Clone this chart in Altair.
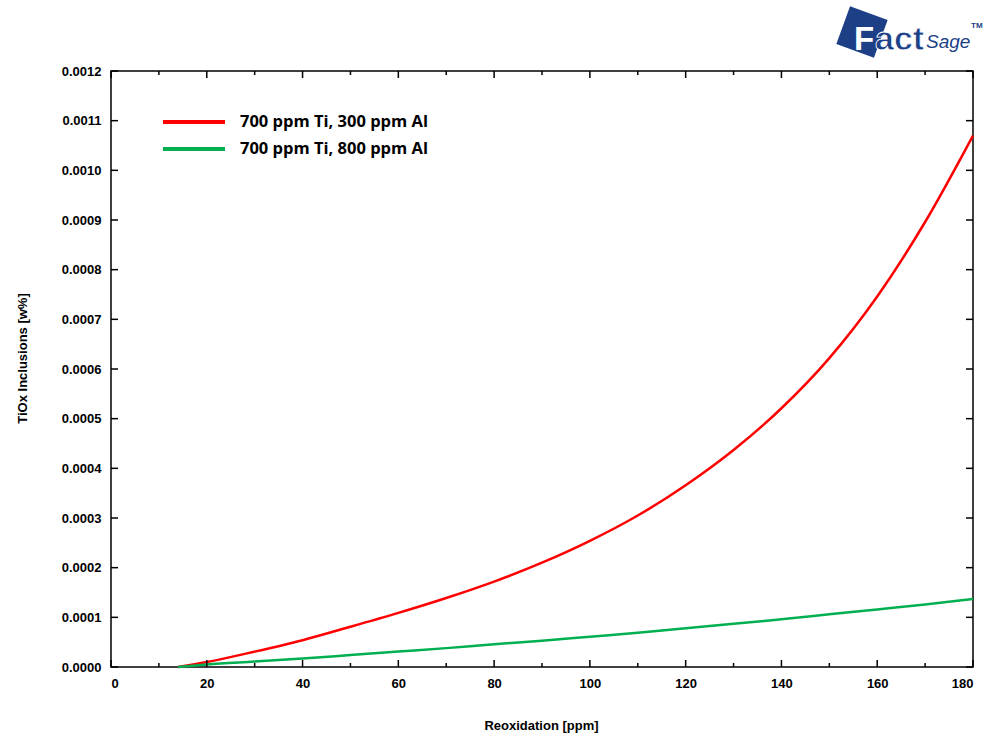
import altair as alt
import pandas as pd

# Data
reox = [14, 20, 30, 40, 50, 60, 70, 80, 90, 100, 110, 120, 130, 140, 150, 160, 170, 180]
red_vals = [0.0, 0.000010, 0.000031, 0.000054, 0.000081, 0.000109, 0.000139, 0.000172,
            0.000210, 0.000254, 0.000305, 0.000366, 0.000437, 0.000521, 0.000622, 0.000746,
            0.000896, 0.001070]
green_vals = [0.0, 0.000005, 0.000011, 0.000017, 0.000024, 0.000031, 0.000038, 0.000046,
              0.000053, 0.000061, 0.000069, 0.000078, 0.000087, 0.000096, 0.000106, 0.000116,
              0.000126, 0.000137]
series_names = ["700 ppm Ti, 300 ppm Al", "700 ppm Ti, 800 ppm Al"]
series_colors = ["#ff0000", "#00b050"]

x_ticks_major = [0, 20, 40, 60, 80, 100, 120, 140, 160, 180]
x_ticks_minor = [10, 30, 50, 70, 90, 110, 130, 150, 170]
y_ticks = [0.0000, 0.0001, 0.0002, 0.0003, 0.0004, 0.0005, 0.0006, 0.0007, 0.0008,
           0.0009, 0.0010, 0.0011, 0.0012]

W, H = 862, 596

rows = []
for name, vals in zip(series_names, [red_vals, green_vals]):
    for xv, yv in zip(reox, vals):
        rows.append({"x": xv, "y": yv, "series": name})
df = pd.DataFrame(rows)

xs = alt.Scale(domain=[0, 180], nice=False, zero=False)
ys = alt.Scale(domain=[0, 0.0012], nice=False, zero=False)

lines = alt.Chart(df).mark_line(strokeWidth=2.5, interpolate="monotone").encode(
    x=alt.X("x:Q", scale=xs, axis=alt.Axis(
        values=x_ticks_major, ticks=False, domain=False, grid=False, labelPadding=10,
        labelFont="Liberation Sans", labelFontWeight="bold", labelFontSize=13, labelColor="black",
        title="Reoxidation [ppm]", titleFont="Liberation Sans", titleFontWeight="bold",
        titleFontSize=13, titleColor="black", titleX=430, titleY=58, titleBaseline="middle",
        titleAnchor="start", titleAlign="center")),
    y=alt.Y("y:Q", scale=ys, axis=alt.Axis(
        values=y_ticks, format=".4f", ticks=False, domain=False, grid=False, labelPadding=10,
        labelFont="Liberation Sans", labelFontWeight="bold", labelFontSize=13, labelColor="black",
        title="TiOx Inclusions [w%]", titleFont="Liberation Sans", titleFontWeight="bold",
        titleFontSize=13, titleColor="black", titleX=-89, titleY=287, titleAngle=270,
        titleAlign="center", titleBaseline="middle", titleAnchor="start")),
    color=alt.Color("series:N", scale=alt.Scale(domain=series_names, range=series_colors),
                    legend=None),
)

# Legend drawn inside the plot (top-left)
legend_layers = []
for i, (name, col) in enumerate(zip(series_names, series_colors)):
    yy = 51 + 27 * i
    one = pd.DataFrame({"series": [name]})
    legend_layers.append(alt.Chart(one).mark_rule(color=col, strokeWidth=4).encode(
        x=alt.value(52), x2=alt.value(114), y=alt.value(yy)))
    legend_layers.append(alt.Chart(one).mark_text(
        align="left", baseline="middle", font="Open Sans", fontWeight="bold",
        fontSize=16.5, color="black").encode(
        text="series:N", x=alt.value(129), y=alt.value(yy)))

xmaj = pd.DataFrame({"x": x_ticks_major})
xmin = pd.DataFrame({"x": x_ticks_minor})
ytk = pd.DataFrame({"y": y_ticks})

def xticks(data, length):
    bottom = alt.Chart(data).mark_rule(color="black", strokeWidth=1.5).encode(
        x=alt.X("x:Q", scale=xs), y=alt.value(H), y2=alt.value(H - length))
    top = alt.Chart(data).mark_rule(color="black", strokeWidth=1.5).encode(
        x=alt.X("x:Q", scale=xs), y=alt.value(0), y2=alt.value(length))
    return bottom + top

left = alt.Chart(ytk).mark_rule(color="black", strokeWidth=1.5).encode(
    y=alt.Y("y:Q", scale=ys), x=alt.value(0), x2=alt.value(7))
right = alt.Chart(ytk).mark_rule(color="black", strokeWidth=1.5).encode(
    y=alt.Y("y:Q", scale=ys), x=alt.value(W), x2=alt.value(W - 7))

# FactSage logo (decoration)
BLUE = "#1c3f86"
one_row = pd.DataFrame({"a": [0]})
logo_sq = alt.Chart(one_row).mark_square(
    size=1600, color=BLUE, angle=20, opacity=1).encode(
    x=alt.value(751), y=alt.value(-39))
logo_f = alt.Chart(one_row).mark_text(
    text="F", font="Liberation Sans", fontWeight="bold", fontSize=33, color="white",
    align="left", baseline="alphabetic").encode(x=alt.value(743), y=alt.value(-21))
logo_act = alt.Chart(one_row).mark_text(
    text="act", font="Liberation Sans", fontWeight="bold", fontSize=34, color=BLUE,
    stroke="white", strokeWidth=0.8, align="left", baseline="alphabetic").encode(
    x=alt.value(764), y=alt.value(-21))
logo_sage = alt.Chart(one_row).mark_text(
    text="Sage", font="Liberation Sans", fontSize=19, color=BLUE,
    align="left", baseline="alphabetic", fontStyle="italic").encode(
    x=alt.value(815), y=alt.value(-23))
logo_tm = alt.Chart(one_row).mark_text(
    text="TM", font="Liberation Sans", fontSize=8, color=BLUE,
    fontWeight="bold", align="left", baseline="alphabetic").encode(
    x=alt.value(860), y=alt.value(-43))

chart = alt.layer(
    lines, *legend_layers, xticks(xmaj, 7), xticks(xmin, 4), left, right,
    logo_sq, logo_f, logo_act, logo_sage, logo_tm
).properties(
    width=W, height=H,
    padding={"left": 111, "top": 71, "right": 14, "bottom": 67},
    autosize="none", background="white"
).configure_view(stroke="black", strokeWidth=1.5)

chart.save("out.html", embed_options={"renderer": "svg", "actions": False})
